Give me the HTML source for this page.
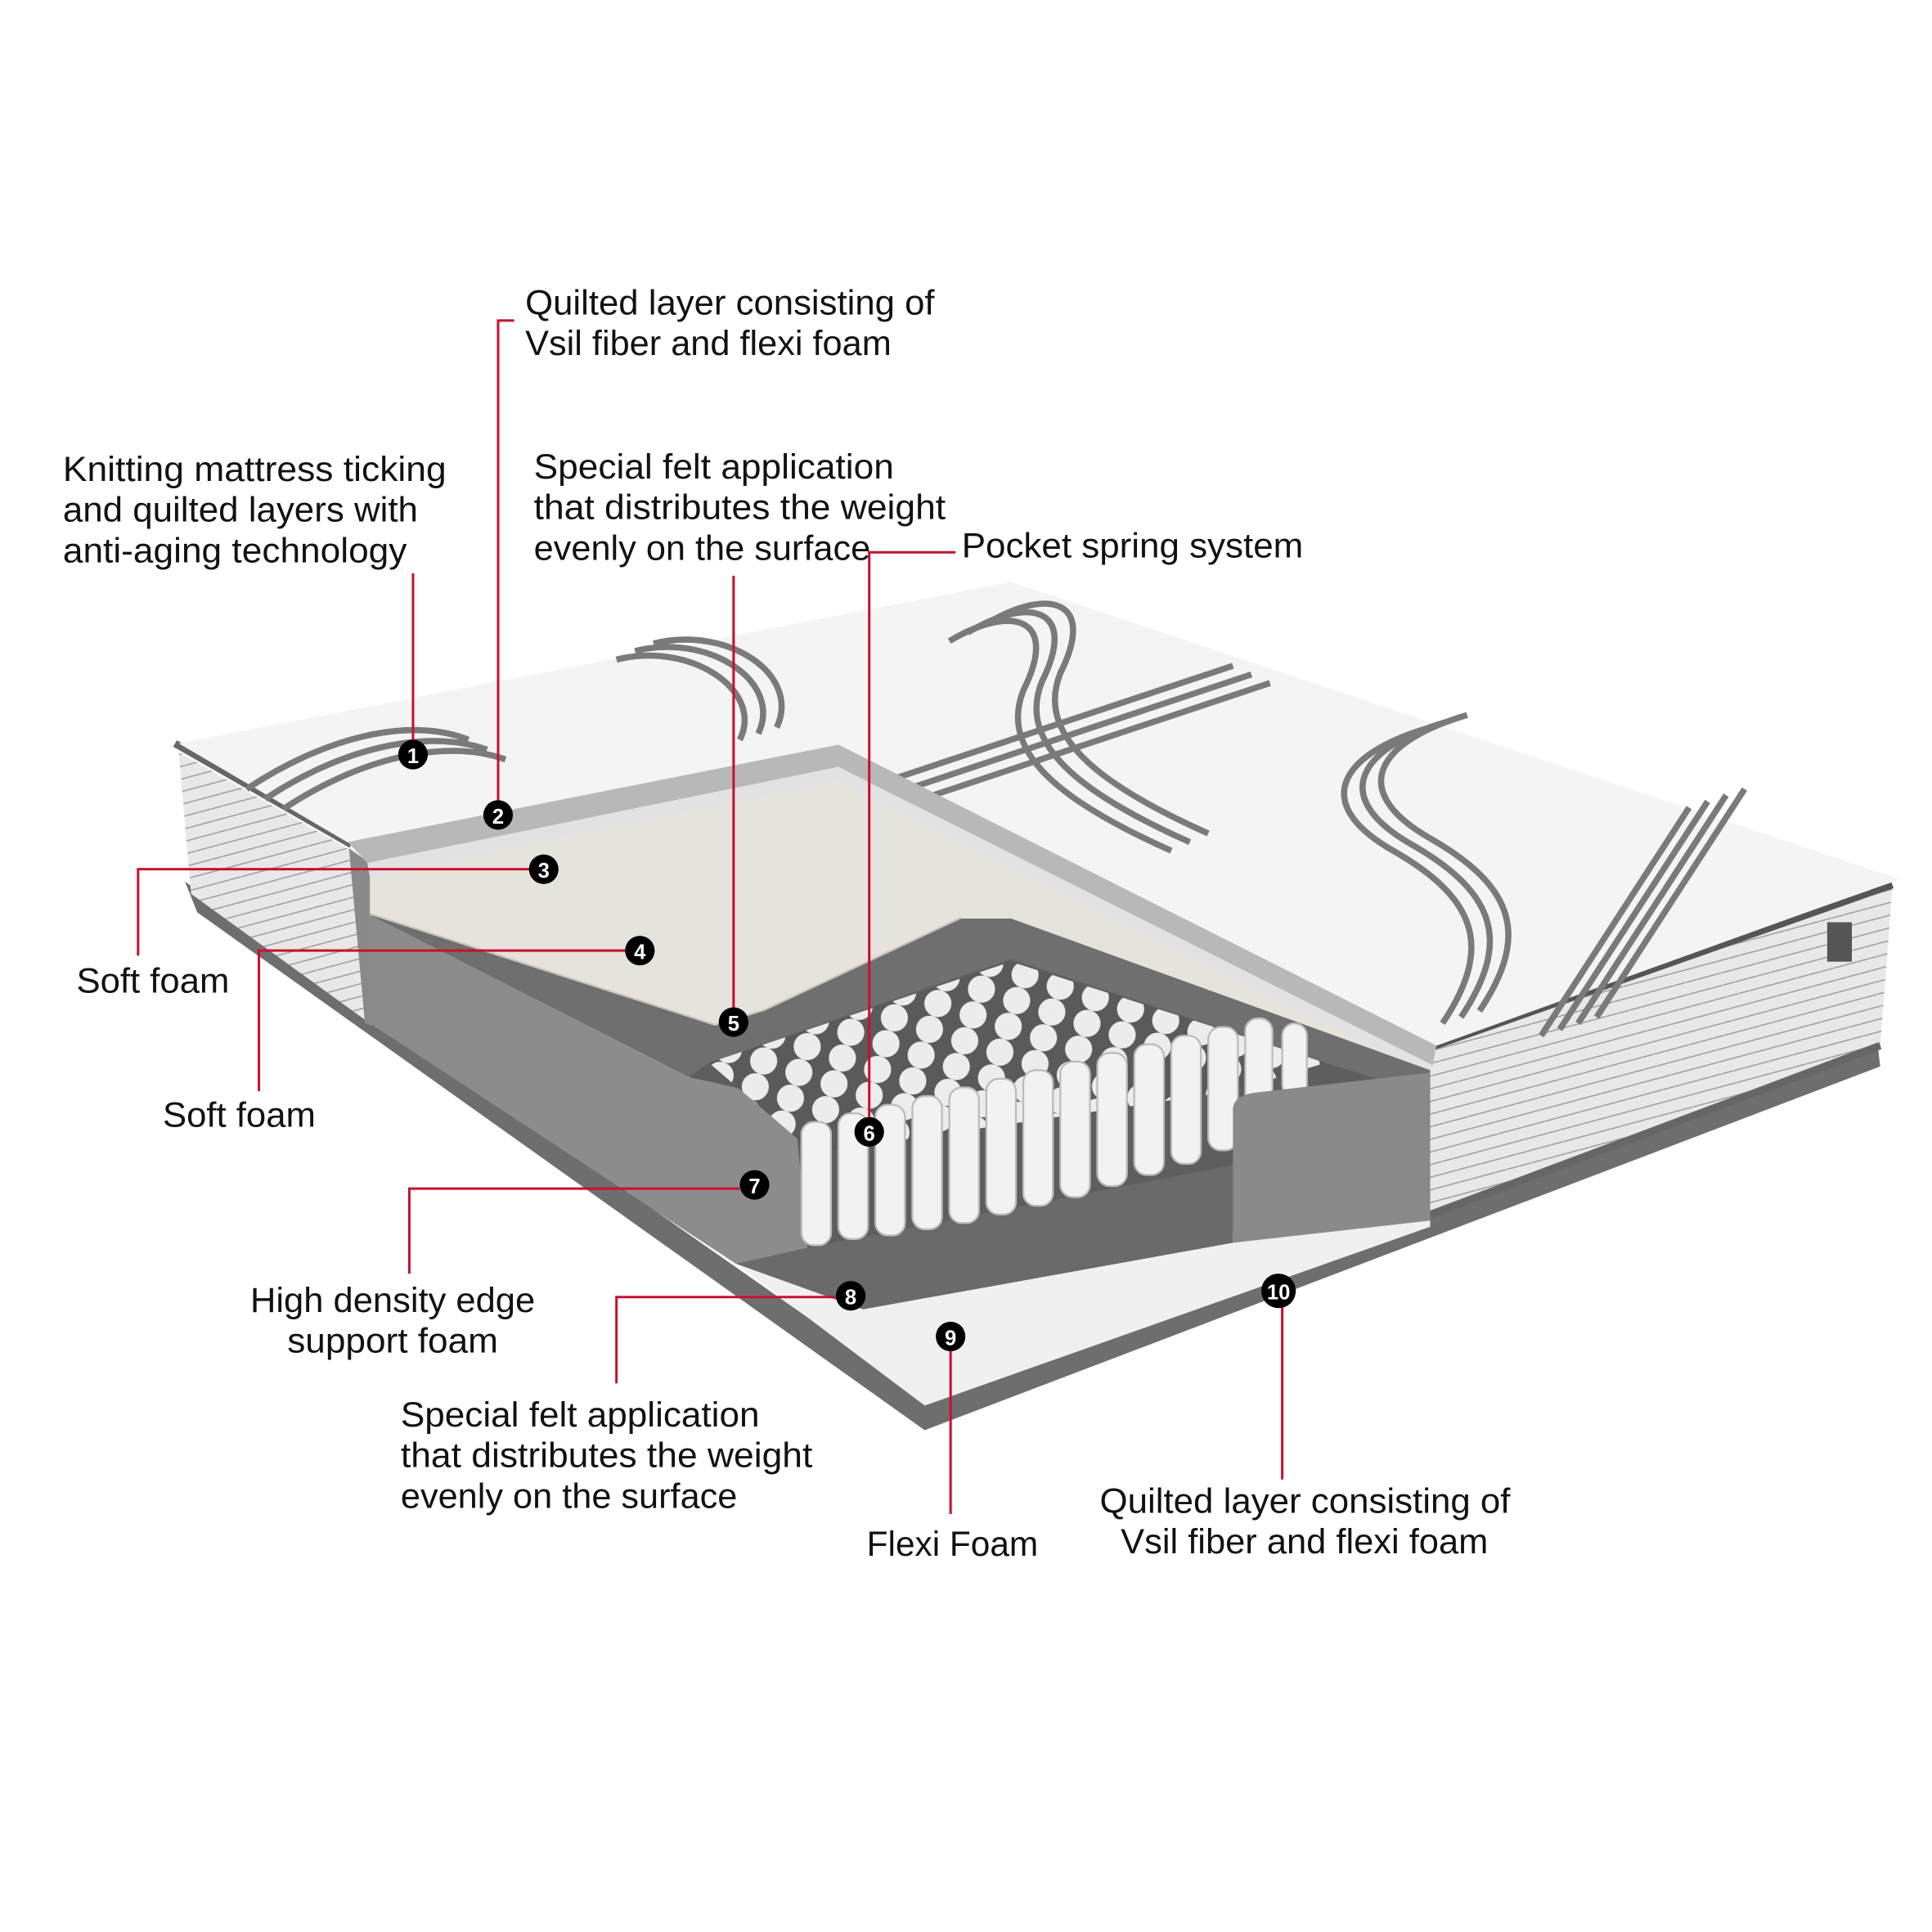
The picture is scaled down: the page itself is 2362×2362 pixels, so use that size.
<!DOCTYPE html>
<html><head><meta charset="utf-8"><style>
html,body{margin:0;padding:0;background:#fff}
svg{display:block}
text{font-family:"Liberation Sans",Arial,sans-serif;font-size:28px;fill:#111}
</style></head><body>
<svg width="2362" height="2362" viewBox="0 0 1567 1567" xmlns="http://www.w3.org/2000/svg">
<defs>
<pattern id="springs" width="30" height="22" patternUnits="userSpaceOnUse" patternTransform="rotate(18)">
<rect width="30" height="22" fill="#5a5a5a"/>
<circle cx="15" cy="11" r="11" fill="#ececec"/>
</pattern>
<pattern id="knit" width="14" height="14" patternUnits="userSpaceOnUse" patternTransform="rotate(30)">
<rect width="14" height="14" fill="#e8e8e8"/>
<path d="M0 7 L7 0 M7 14 L14 7" stroke="#9a9a9a" stroke-width="1"/>
</pattern>
</defs>

<!-- base bottom border -->
<path d="M150 715 L160 740 L750 1160 L1525 865 L1522 840 L750 1135 Z" fill="#6e6e6e"/>
<!-- right side panel -->
<path d="M1160 850 L1535 718 L1525 848 L1160 985 Z" fill="url(#knit)"/>
<path d="M1160 850 L1535 718" stroke="#555" stroke-width="5" fill="none"/>
<path d="M1160 985 L1525 848" stroke="#666" stroke-width="6" fill="none"/>
<!-- left side panel -->
<path d="M145 610 L285 690 L300 830 L155 725 Z" fill="url(#knit)"/>
<path d="M142 603 L285 685" stroke="#666" stroke-width="6" fill="none"/>
<path d="M283 688 L300 700 L302 832 L296 830 Z" fill="#8a8a8a"/>
<!-- top surface -->
<path d="M145 603 L820 472 L1540 713 L1160 850 L680 605 L285 685 Z" fill="#f4f4f4"/>
<!-- stripes -->
<g fill="none" stroke="#7a7a7a" stroke-width="5">
<path d="M200 640 C260 600 330 580 380 600 M215 648 C275 608 345 590 395 608 M230 656 C290 616 360 598 410 616"/>
<path d="M500 535 C560 520 620 560 600 600 M515 528 C575 513 635 553 615 595 M530 522 C590 507 650 547 630 590"/>
<path d="M770 520 C820 490 860 500 830 560 C810 610 860 650 950 690 M785 513 C835 483 875 493 845 553 C825 603 875 643 965 683 M800 506 C850 476 890 486 860 546 C840 596 890 636 980 676"/>
<path d="M700 640 L1000 540 M715 647 L1015 547 M730 654 L1030 554"/>
<path d="M1160 590 C1090 610 1060 650 1130 690 C1200 730 1210 770 1170 830 M1175 585 C1105 605 1075 645 1145 685 C1215 725 1225 765 1185 825 M1190 580 C1120 600 1090 640 1160 680 C1230 720 1240 760 1200 820"/>
<path d="M1250 840 L1370 655 M1265 835 L1385 650 M1280 830 L1400 645 M1295 825 L1415 640"/>
</g>
<rect x="1482" y="748" width="20" height="32" fill="#555"/>
<!-- dark interior backdrop -->
<path d="M300 742 L580 832 L820 745 L1160 868 L1160 992 L655 1012 L597 1025 L300 830 Z" fill="#5e5e5e"/>
<!-- cut top cover edge -->
<path d="M282 683 L680 604 L1165 848 L1162 864 L680 622 L298 700 Z" fill="#b8b8b8"/>
<path d="M298 700 L680 622 L1162 864 L1160 872 L680 634 L300 712 Z" fill="#e2e2e2"/>
<!-- cream foam slab -->
<path d="M300 712 L680 634 L1160 872 L1160 868 L820 745 L780 745 L620 820 L580 832 L300 742 Z" fill="#e6e2dc"/>
<path d="M300 742 L580 832 L620 820 L780 745" stroke="#c9c4bc" stroke-width="3" fill="none"/>
<!-- felt layer -->
<path d="M300 742 L580 832 L620 820 L780 745 L820 745 L1160 868 L1160 888 L1075 862 L820 778 L575 862 L555 876 Z" fill="#6f6f6f"/>
<!-- left edge support foam -->
<path d="M300 742 L560 874 Q640 890 645 905 L655 1012 L597 1025 L300 830 Z" fill="#8c8c8c"/>
<!-- spring tops -->
<path d="M575 862 L820 780 L1075 862 L1000 885 L660 935 Z" fill="url(#springs)"/>
<!-- bottom flexi foam -->
<path d="M597 1025 L1000 1008 L1160 985 L1160 995 L750 1140 Z" fill="#f0f0f0"/>
<!-- bottom felt -->
<path d="M597 1025 L655 1012 L1000 945 L1000 1008 L700 1062 Z" fill="#6a6a6a"/>
<!-- spring columns -->
<g fill="#f2f2f2" stroke="#bbb" stroke-width="1.5">
<rect x="650" y="910" width="24" height="100" rx="10"/>
<rect x="680" y="903" width="24" height="102" rx="10"/>
<rect x="710" y="896" width="24" height="106" rx="10"/>
<rect x="740" y="889" width="24" height="108" rx="10"/>
<rect x="770" y="882" width="24" height="110" rx="10"/>
<rect x="800" y="875" width="24" height="110" rx="10"/>
<rect x="830" y="868" width="24" height="110" rx="10"/>
<rect x="860" y="861" width="24" height="110" rx="10"/>
<rect x="890" y="854" width="24" height="108" rx="10"/>
<rect x="920" y="847" width="24" height="106" rx="10"/>
<rect x="950" y="840" width="24" height="104" rx="10"/>
<rect x="980" y="833" width="24" height="100" rx="10"/>
<rect x="1010" y="826" width="22" height="80" rx="10"/>
<rect x="1040" y="830" width="20" height="60" rx="10"/>
</g>
<!-- right edge support block -->
<path d="M1000 900 Q1000 888 1020 886 L1160 870 L1160 990 L1000 1008 Z" fill="#8a8a8a"/>

<!-- red callout lines -->
<g stroke="#c8102e" stroke-width="2" fill="none">
<path d="M335 465 V600"/>
<path d="M417 260 H404 V650"/>
<path d="M430 705 H112 V775"/>
<path d="M508 771 H210 V885"/>
<path d="M595 467 V818"/>
<path d="M775 448 H705 V906"/>
<path d="M600 964 H332 V1033"/>
<path d="M678 1052 H500 V1122"/>
<path d="M771 1096 V1228"/>
<path d="M1040 1060 V1200"/>
</g>
<!-- markers -->
<g>
<circle cx="335" cy="612" r="12" fill="#000"/><text x="335" y="619" text-anchor="middle" style="fill:#fff;font-size:17px;font-weight:bold">1</text>
<circle cx="404" cy="661" r="12" fill="#000"/><text x="404" y="668" text-anchor="middle" style="fill:#fff;font-size:17px;font-weight:bold">2</text>
<circle cx="441" cy="705" r="12" fill="#000"/><text x="441" y="712" text-anchor="middle" style="fill:#fff;font-size:17px;font-weight:bold">3</text>
<circle cx="519" cy="771" r="12" fill="#000"/><text x="519" y="778" text-anchor="middle" style="fill:#fff;font-size:17px;font-weight:bold">4</text>
<circle cx="595" cy="829" r="12" fill="#000"/><text x="595" y="836" text-anchor="middle" style="fill:#fff;font-size:17px;font-weight:bold">5</text>
<circle cx="705" cy="918" r="12" fill="#000"/><text x="705" y="925" text-anchor="middle" style="fill:#fff;font-size:17px;font-weight:bold">6</text>
<circle cx="612" cy="961" r="12" fill="#000"/><text x="612" y="968" text-anchor="middle" style="fill:#fff;font-size:17px;font-weight:bold">7</text>
<circle cx="690" cy="1051" r="12" fill="#000"/><text x="690" y="1058" text-anchor="middle" style="fill:#fff;font-size:17px;font-weight:bold">8</text>
<circle cx="771" cy="1084" r="12" fill="#000"/><text x="771" y="1091" text-anchor="middle" style="fill:#fff;font-size:17px;font-weight:bold">9</text>
<circle cx="1037" cy="1047" r="14" fill="#000"/><text x="1037" y="1054" text-anchor="middle" style="fill:#fff;font-size:17px;font-weight:bold">10</text>
</g>

<!-- labels -->
<text x="426" y="255" textLength="332" lengthAdjust="spacingAndGlyphs">Quilted layer consisting of</text>
<text x="426" y="288" textLength="297" lengthAdjust="spacingAndGlyphs">Vsil fiber and flexi foam</text>
<text x="51" y="390" textLength="311" lengthAdjust="spacingAndGlyphs">Knitting mattress ticking</text>
<text x="51" y="423" textLength="288" lengthAdjust="spacingAndGlyphs">and quilted layers with</text>
<text x="51" y="456" textLength="279" lengthAdjust="spacingAndGlyphs">anti-aging technology</text>
<text x="433" y="388" textLength="292" lengthAdjust="spacingAndGlyphs">Special felt application</text>
<text x="433" y="421" textLength="334" lengthAdjust="spacingAndGlyphs">that distributes the weight</text>
<text x="433" y="454" textLength="273" lengthAdjust="spacingAndGlyphs">evenly on the surface</text>
<text x="780" y="452" textLength="277" lengthAdjust="spacingAndGlyphs">Pocket spring system</text>
<text x="62" y="805" textLength="124" lengthAdjust="spacingAndGlyphs">Soft foam</text>
<text x="132" y="914" textLength="124" lengthAdjust="spacingAndGlyphs">Soft foam</text>
<text x="203" y="1064" textLength="231" lengthAdjust="spacingAndGlyphs">High density edge</text>
<text x="233" y="1097" textLength="171" lengthAdjust="spacingAndGlyphs">support foam</text>
<text x="325" y="1157" textLength="291" lengthAdjust="spacingAndGlyphs">Special felt application</text>
<text x="325" y="1190" textLength="334" lengthAdjust="spacingAndGlyphs">that distributes the weight</text>
<text x="325" y="1223" textLength="273" lengthAdjust="spacingAndGlyphs">evenly on the surface</text>
<text x="703" y="1262" textLength="139" lengthAdjust="spacingAndGlyphs">Flexi Foam</text>
<text x="892" y="1227" textLength="333" lengthAdjust="spacingAndGlyphs">Quilted layer consisting of</text>
<text x="909" y="1260" textLength="298" lengthAdjust="spacingAndGlyphs">Vsil fiber and flexi foam</text>
</svg>
</body></html>
